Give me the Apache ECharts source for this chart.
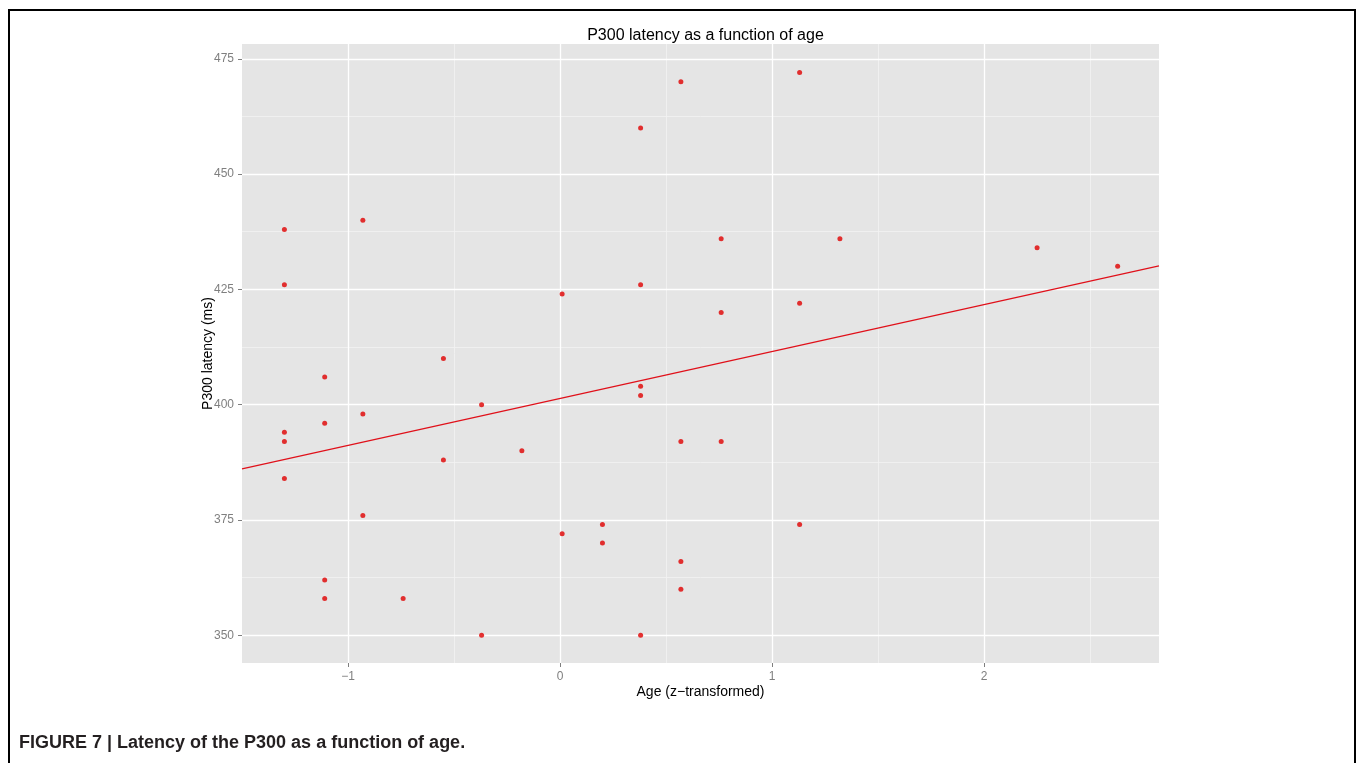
<!DOCTYPE html>
<html>
<head>
<meta charset="utf-8">
<style>
  html, body { margin: 0; padding: 0; background: #ffffff; }
  #chart { width: 1360px; height: 763px; }
</style>
<script src="https://cdn.jsdelivr.net/npm/echarts@6/dist/echarts.min.js"></script>
</head>
<body>
<div id="chart"></div>
<script>
// ---- Data ----
const ageZ = [
  -1.30, -1.30, -1.30, -1.30, -1.30,
  -1.11, -1.11, -1.11, -1.11,
  -0.93, -0.93, -0.93,
  -0.74,
  -0.55, -0.55,
  -0.37, -0.37,
  -0.18,
   0.01,  0.01,
   0.20,  0.20,
   0.38,  0.38,  0.38,  0.38,  0.38,
   0.57,  0.57,  0.57,  0.57,
   0.76,  0.76,  0.76,
   1.13,  1.13,  1.13,
   1.32,
   2.25,
   2.63
];
const latency = [
  438, 426, 394, 392, 384,
  406, 396, 362, 358,
  440, 398, 376,
  358,
  410, 388,
  400, 350,
  390,
  424, 372,
  374, 370,
  460, 426, 404, 402, 350,
  470, 392, 366, 360,
  436, 420, 392,
  472, 422, 374,
  436,
  434,
  430
];
// fitted regression line, read at the panel edges
const fitX = [-1.5, 2.825];
const fitY = [386.1, 430.1];

const xMajorTicks = [-1, 0, 1, 2];
const xMinorTicks = [-0.5, 0.5, 1.5, 2.5];
const yMajorTicks = [350, 375, 400, 425, 450, 475];
const yMinorTicks = [362.5, 387.5, 412.5, 437.5, 462.5];

const xRange = [-1.5, 2.825];
const yRange = [344.0, 478.2];

const titleText = 'P300 latency as a function of age';
const xName = 'Age (z\u2212transformed)';
const yName = 'P300 latency (ms)';
const captionText = 'FIGURE 7 | Latency of the P300 as a function of age.';

// ---- Build chart ----
const FONT = '"Liberation Sans", Arial, Helvetica, sans-serif';
const points = ageZ.map((x, i) => [x, latency[i]]);
const fitLine = fitX.map((x, i) => [x, fitY[i]]);
const fmtNum = v => (v < 0 ? '\u2212' + Math.abs(v) : String(v));

const chart = echarts.init(document.getElementById('chart'), null, { renderer: 'canvas' });
chart.setOption({
  backgroundColor: '#ffffff',
  animation: false,
  textStyle: { fontFamily: FONT },
  title: [
    {
      text: titleText,
      left: 700.5,
      textAlign: 'center',
      top: 23,
      textStyle: { fontFamily: FONT, fontSize: 16, fontWeight: 'normal', color: '#000000' }
    },
    {
      text: captionText,
      left: 14,
      top: 729,
      textStyle: { fontFamily: FONT, fontSize: 18, fontWeight: 'bold', color: '#231f20' }
    }
  ],
  grid: {
    left: 242, right: 201, top: 44, bottom: 100,
    show: true, backgroundColor: '#e5e5e5', borderWidth: 0
  },
  xAxis: [
    {
      type: 'value', min: xRange[0], max: xRange[1],
      name: xName, nameLocation: 'middle', nameGap: 22, nameMoveOverlap: false,
      nameTextStyle: { fontFamily: FONT, fontSize: 14, color: '#000000' },
      axisLine: { show: false, onZero: false },
      axisTick: { show: true, length: 4, customValues: xMajorTicks, lineStyle: { color: '#7f7f7f', width: 1 } },
      axisLabel: { customValues: xMajorTicks, formatter: fmtNum, margin: 8, fontFamily: FONT, fontSize: 12, color: '#7f7f7f' },
      splitLine: { show: true, lineStyle: { color: '#ffffff', width: 1.3 } },
      z: 2
    },
    {
      type: 'value', min: xRange[0], max: xRange[1],
      axisLine: { show: false, onZero: false },
      axisTick: { show: false, customValues: xMinorTicks },
      axisLabel: { show: false, customValues: xMinorTicks },
      splitLine: { show: true, lineStyle: { color: '#f2f2f2', width: 0.8 } },
      z: 1
    }
  ],
  yAxis: [
    {
      type: 'value', min: yRange[0], max: yRange[1],
      name: yName, nameLocation: 'middle', nameGap: 27, nameMoveOverlap: false,
      nameTextStyle: { fontFamily: FONT, fontSize: 14, color: '#000000' },
      axisLine: { show: false, onZero: false },
      axisTick: { show: true, length: 4, customValues: yMajorTicks, lineStyle: { color: '#7f7f7f', width: 1 } },
      axisLabel: { customValues: yMajorTicks, margin: 8, fontFamily: FONT, fontSize: 12, color: '#7f7f7f' },
      splitLine: { show: true, lineStyle: { color: '#ffffff', width: 1.3 } },
      z: 2
    },
    {
      type: 'value', min: yRange[0], max: yRange[1],
      axisLine: { show: false, onZero: false },
      axisTick: { show: false, customValues: yMinorTicks },
      axisLabel: { show: false, customValues: yMinorTicks },
      splitLine: { show: true, lineStyle: { color: '#f2f2f2', width: 0.8 } },
      z: 1
    }
  ],
  graphic: [
    {
      type: 'rect',
      shape: { x: 9, y: 10, width: 1346, height: 800 },
      style: { fill: 'none', stroke: '#000000', lineWidth: 2 },
      silent: true, z: 100
    }
  ],
  series: [
    {
      type: 'line',
      data: fitLine,
      xAxisIndex: 0, yAxisIndex: 0,
      showSymbol: false,
      lineStyle: { color: '#e0101a', width: 1.2 },
      silent: true,
      z: 3
    },
    {
      type: 'scatter',
      data: points,
      xAxisIndex: 0, yAxisIndex: 0,
      symbol: 'circle',
      symbolSize: 5,
      itemStyle: { color: '#e00000' },
      z: 4
    }
  ]
});
</script>
</body>
</html>
